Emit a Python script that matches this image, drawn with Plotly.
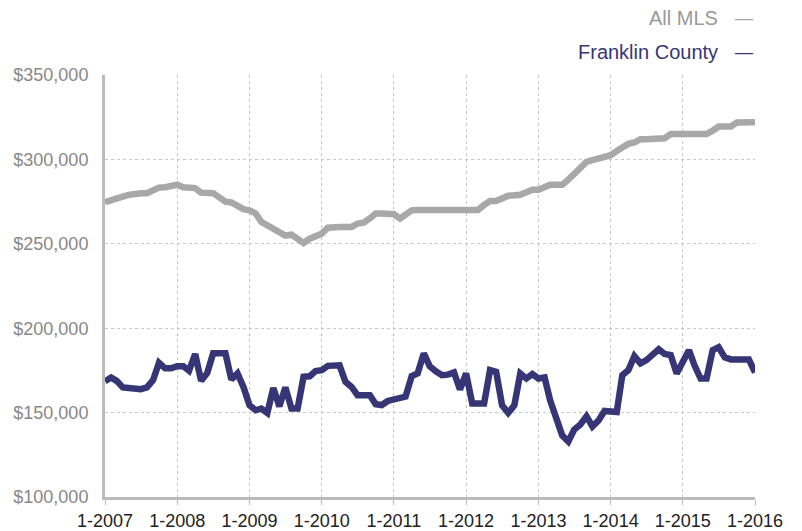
import plotly.graph_objects as go

# Monthly dates, Jan 2007 .. Jan 2016
months = [f"{y}-{m:02d}-01" for y in range(2007, 2016) for m in range(1, 13)] + ["2016-01-01"]

all_mls = [
    274600, 276000, 277200, 278000, 279000, 280000, 280000, 280000, 281500, 283300, 283500, 284200,
    285000, 283500, 283500, 283000, 280300, 280000, 280000, 277500, 275000, 274500, 272000, 270500,
    269800, 268000, 263000, 261000, 258000, 256000, 254900, 255400, 253000, 250500, 253000, 255000,
    256000, 259500, 260000, 260000, 260000, 260000, 262000, 262500, 265000, 268000, 268000, 267500,
    267500, 265000, 267500, 269800, 270000, 270000, 270000, 270000, 270000, 270000, 270000, 270000,
    270000, 270000, 270000, 273000, 275300, 275300, 277400, 278500, 278700, 279000, 280500, 282000,
    282000, 283500, 285000, 285000, 285000, 288000, 291500, 295000, 298500, 299500, 300500, 301500,
    302500, 305000, 307000, 309300, 310000, 312000, 312000, 312000, 312000, 312500, 315000, 315000,
    315000, 315000, 315000, 315000, 315000, 317000, 319500, 319500, 319500, 321800, 322000, 322000,
    322000,
]

franklin = [
    168600, 170800, 168800, 164900, 164600, 164500, 163900, 164900, 169200, 179500, 176200, 176200,
    177500, 177500, 174800, 184700, 168800, 173500, 185100, 185100, 185100, 169600, 173200, 165200,
    154300, 151400, 152400, 149800, 164600, 153700, 164900, 152400, 152400, 171200, 171500, 174600,
    175100, 177700, 177800, 178000, 168200, 165200, 160300, 160300, 160300, 155000, 154500, 156900,
    157800, 158800, 159500, 171600, 173200, 185100, 177500, 174500, 172200, 172500, 173800, 163700,
    173200, 155400, 155400, 155400, 175200, 174200, 154300, 149800, 154300, 173200, 170200, 172800,
    170200, 170800, 157300, 146000, 136500, 132900, 140000, 143000, 147800, 141800, 145400, 151000,
    151000, 150400, 172200, 175200, 183500, 179200, 181100, 184000, 187500, 184700, 184100, 173200,
    180700, 187000, 178000, 170200, 170200, 187000, 188700, 182700, 181500, 181500, 181500, 181500,
    173800,
]

tick_dates = [f"{y}-01-01" for y in range(2007, 2017)]
tick_labels = [f"1-{y}" for y in range(2007, 2017)]
y_ticks = [100000, 150000, 200000, 250000, 300000, 350000]
y_labels = ["$100,000", "$150,000", "$200,000", "$250,000", "$300,000", "$350,000"]

GRAY = "#a8a8a8"
NAVY = "#363677"
FONT = "Liberation Sans, Arial, sans-serif"

fig = go.Figure()
fig.add_trace(go.Scatter(x=months, y=all_mls, mode="lines", name="All MLS",
                         line=dict(color=GRAY, width=6.5), hoverinfo="skip"))
fig.add_trace(go.Scatter(x=months, y=franklin, mode="lines", name="Franklin County",
                         line=dict(color=NAVY, width=6.5), hoverinfo="skip"))

# page body has an 8px margin, so the figure is sized/offset to compensate
fig.update_layout(
    width=794, height=523,
    margin=dict(l=97, r=47, t=67, b=34, autoexpand=False),
    paper_bgcolor="white", plot_bgcolor="white",
    showlegend=False,
    font=dict(family=FONT, size=18, color="#888888"),
    xaxis=dict(
        type="date", automargin=False,
        range=["2007-01-01", "2016-01-01"],
        tickvals=tick_dates, ticktext=tick_labels,
        tickfont=dict(size=18, color="#222222"),
        showgrid=True, gridcolor="#c8c8c8", griddash="dot", gridwidth=1,
        showline=True, linecolor="#bbbbbb", linewidth=3,
        ticks="outside", ticklen=5, tickcolor="#bbbbbb", tickwidth=1,
        zeroline=False, fixedrange=True,
    ),
    yaxis=dict(
        automargin=False,
        range=[100000, 350000],
        tickvals=y_ticks, ticktext=y_labels,
        tickfont=dict(size=18, color="#888888"),
        showgrid=True, gridcolor="#c8c8c8", griddash="dot", gridwidth=1,
        showline=True, linecolor="#bbbbbb", linewidth=3,
        ticks="outside", ticklen=10, tickcolor="rgba(0,0,0,0)",
        zeroline=False, fixedrange=True,
    ),
)

# Legend built from text annotations (top right)
legend_items = [("All MLS", GRAY, "#999999", 18), ("Franklin County", NAVY, NAVY, 52)]
for label, line_col, text_col, ypix in legend_items:
    yp = 1 + (75 - ypix) / 422
    fig.add_annotation(x=(720 - 105) / 650, y=yp, xref="paper", yref="paper",
                       text=label, showarrow=False, xanchor="right", yanchor="middle",
                       font=dict(size=20, color=text_col, family=FONT))
    fig.add_annotation(x=(733 - 105) / 650, y=yp, xref="paper", yref="paper",
                       text="—", showarrow=False, xanchor="left", yanchor="middle",
                       font=dict(size=18, color=line_col, family=FONT))

fig.write_html("out.html")
